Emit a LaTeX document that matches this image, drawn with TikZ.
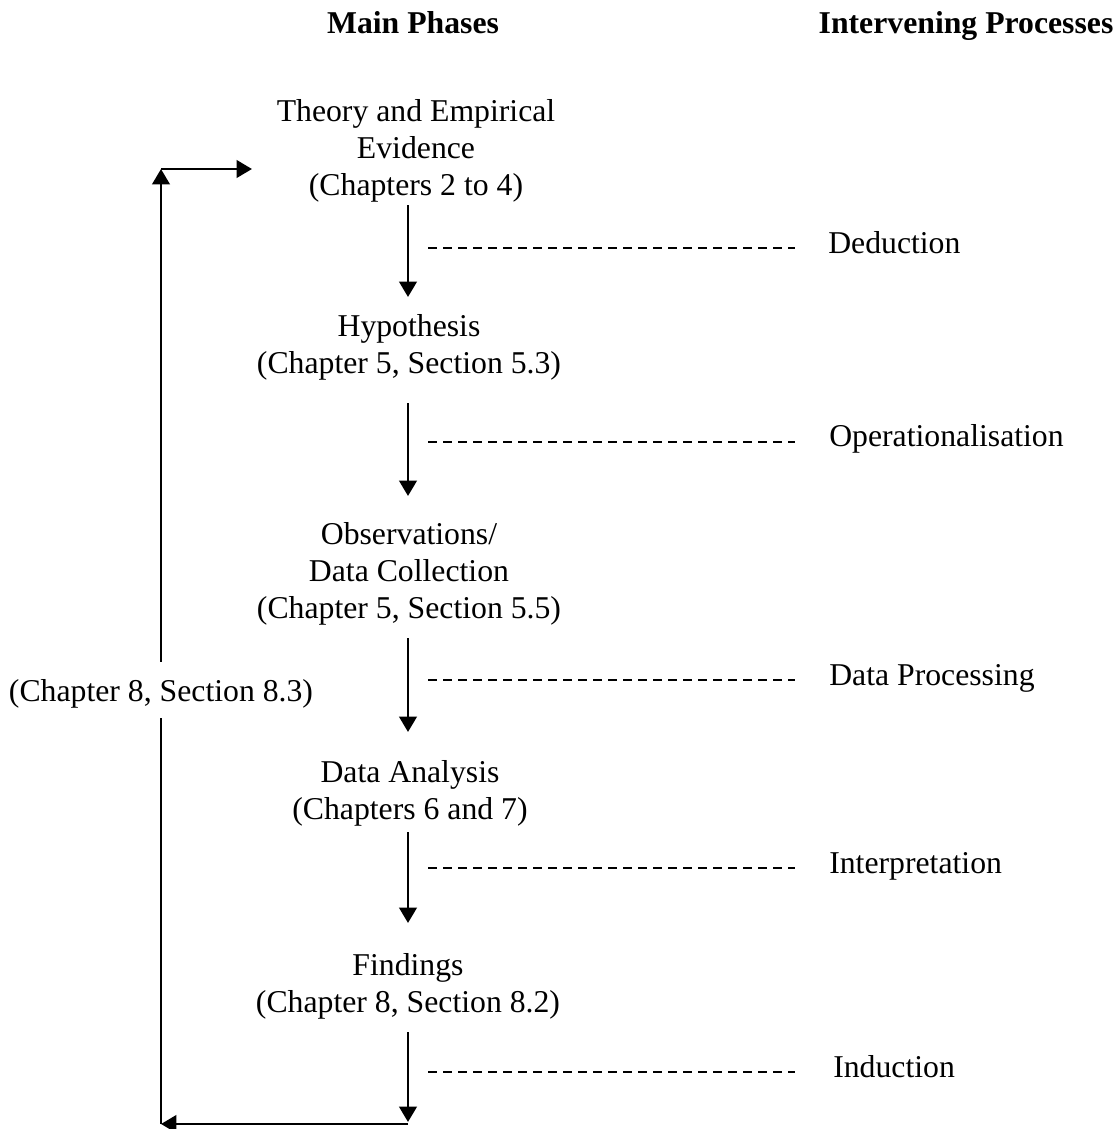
\documentclass[tikz,border=0pt]{standalone}
\usepackage{fontspec}
\setmainfont{Liberation Serif}
\usetikzlibrary{arrows.meta}
\newcommand\blk[1]{\begin{tabular}[t]{@{}c@{}}#1\end{tabular}}
\begin{document}
\begin{tikzpicture}[x=0.75pt,y=-0.75pt,
  txt/.style={inner sep=0pt, anchor=base, font=\fontsize{23.8}{28.1}\selectfont},
  lbl/.style={inner sep=0pt, anchor=base west, font=\fontsize{23.8}{28.1}\selectfont},
  head/.style={inner sep=0pt, anchor=base, font=\fontsize{23.8}{28.1}\selectfont\bfseries},
  flow/.style={line width=2.2pt, -{Triangle[length=11.5pt,width=13pt]}},
  plainline/.style={line width=2.2pt},
  dsh/.style={line width=1.6pt, dash pattern=on 6.75pt off 4.5pt}]
\useasboundingbox (0,0) rectangle (1120,1129);

% headings
\node[head] (hmain) at (413,33) {Main Phases};
\node[head] (hint) at (966,33) {Intervening Processes};

% main phases
\node[txt] (theory) at (416,121) {\blk{Theory and Empirical\\ Evidence\\ (Chapters 2 to 4)}};
\node[txt] (hyp) at (409,336) {\blk{Hypothesis\\ (Chapter 5, Section 5.3)}};
\node[txt] (obs) at (409,544) {\blk{Observations/\\ Data Collection\\ (Chapter 5, Section 5.5)}};
\node[txt] (ana) at (410,782) {\blk{Data Analysis\\ (Chapters 6 and 7)}};
\node[txt] (fin) at (408,975) {\blk{Findings\\ (Chapter 8, Section 8.2)}};

% intervening processes
\node[lbl] (ded) at (828,253) {Deduction};
\node[lbl] (ope) at (829,446) {Operationalisation};
\node[lbl] (dpr) at (829,685) {Data Processing};
\node[lbl] (int) at (829,873) {Interpretation};
\node[lbl] (ind) at (833,1077) {Induction};

% feedback label
\node[txt] (loop) at (161,701) {(Chapter 8, Section 8.3)};

% arrow coordinates
\coordinate (a1s) at (408,205); \coordinate (a1e) at (408,297);
\coordinate (a2s) at (408,403); \coordinate (a2e) at (408,496);
\coordinate (a3s) at (408,638); \coordinate (a3e) at (408,732);
\coordinate (a4s) at (408,832); \coordinate (a4e) at (408,923);
\coordinate (a5s) at (408,1032); \coordinate (a5e) at (408,1122);
\coordinate (br) at (408,1124);
\coordinate (bl) at (161,1124);
\coordinate (tl) at (161,169);

\draw[flow] (a1s) -- (a1e);
\draw[flow] (a2s) -- (a2e);
\draw[flow] (a3s) -- (a3e);
\draw[flow] (a4s) -- (a4e);
\draw[flow] (a5s) -- (a5e);

% dashed leaders
\coordinate (ds1) at (428,248);
\coordinate (ds2) at (428,442);
\coordinate (ds3) at (428,680);
\coordinate (ds4) at (428,868);
\coordinate (ds5) at (428,1072);
\draw[dsh] (ds1) -- (ds1 -| ded.west) [shorten >=24.75pt];
\draw[dsh] (ds2) -- (ds2 -| ope.west) [shorten >=25.5pt];
\draw[dsh] (ds3) -- (ds3 -| dpr.west) [shorten >=25.5pt];
\draw[dsh] (ds4) -- (ds4 -| int.west) [shorten >=25.5pt];
\draw[dsh] (ds5) -- (ds5 -| ind.west) [shorten >=28.5pt];

% feedback loop
\draw[flow] (br) -- (bl);
\draw[plainline, shorten >=7.5pt] (bl) -- (loop.south);
\draw[flow, shorten <=12.75pt] (loop.north) -- (tl);
\draw[flow, shorten >=18.4pt] (tl) -- (tl -| theory.west);
\end{tikzpicture}
\end{document}
